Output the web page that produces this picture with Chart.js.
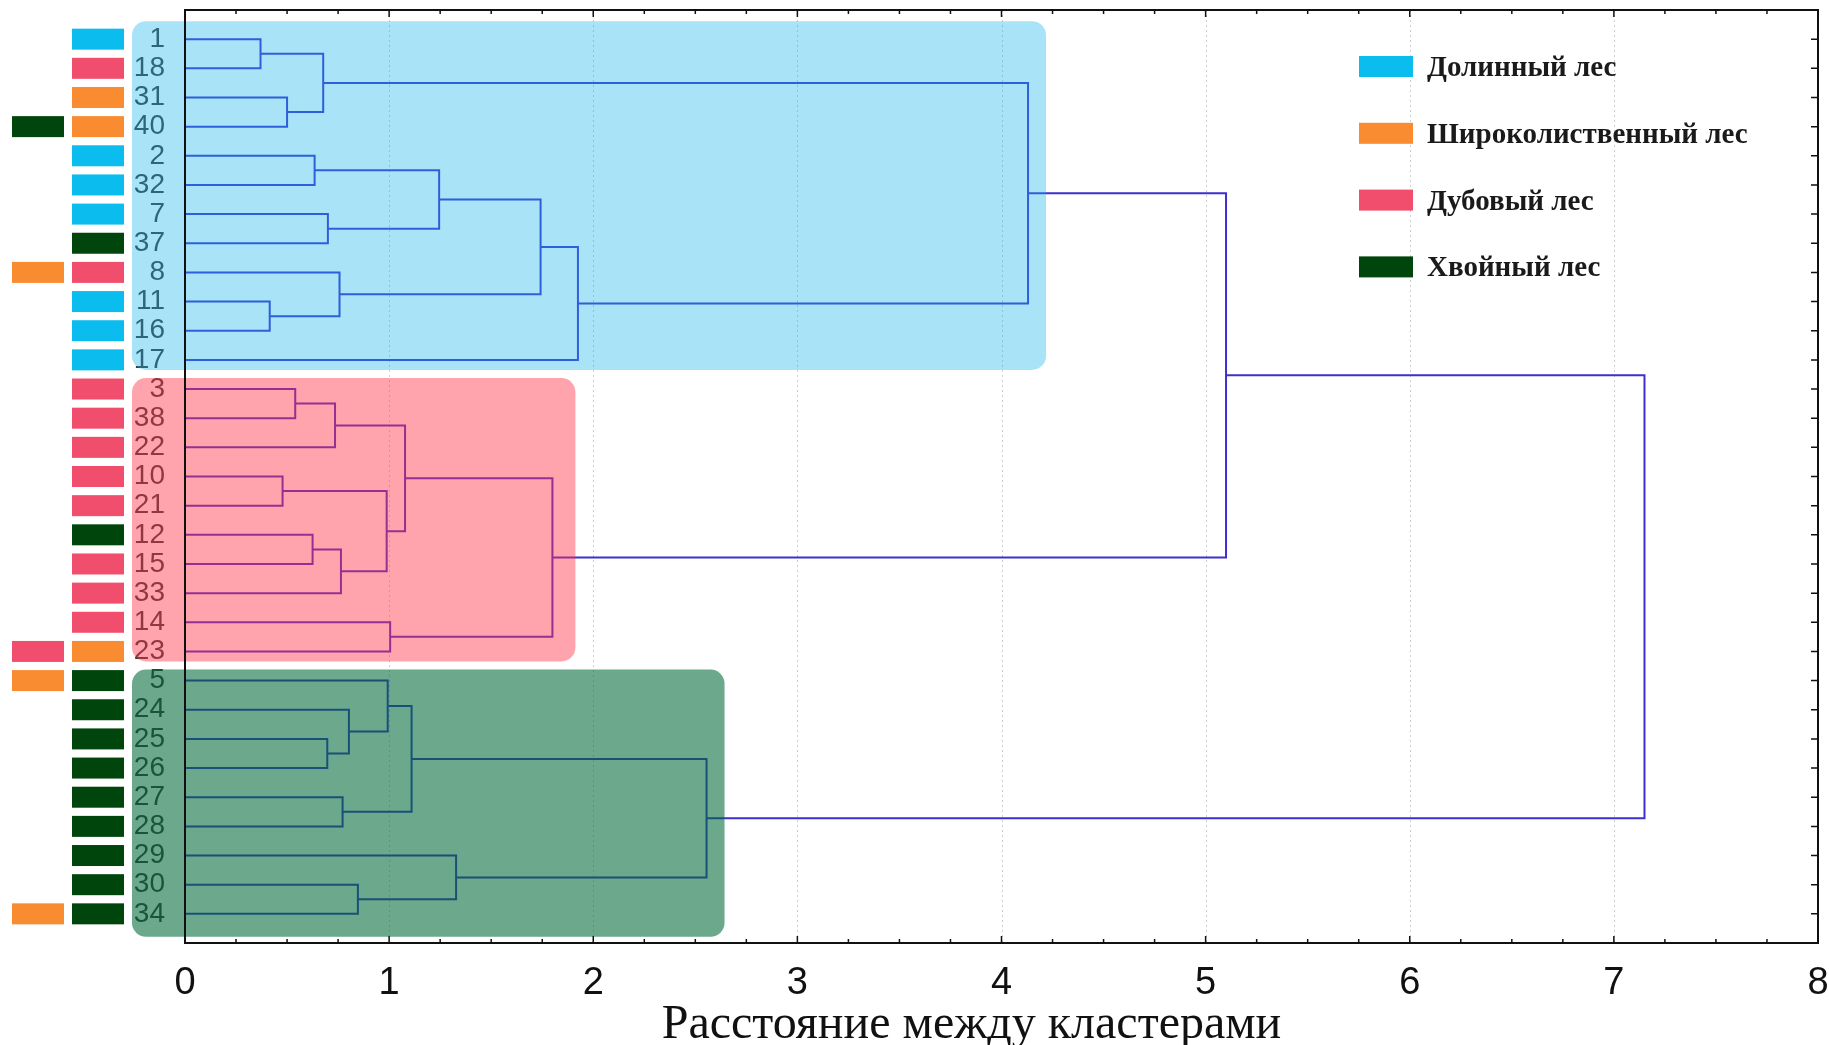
<!DOCTYPE html>
<html>
<head>
<meta charset="utf-8">
<title>Дендрограмма</title>
<script src="https://cdn.jsdelivr.net/npm/chart.js@4.4.1/dist/chart.umd.min.js"></script>
<style>
  html, body { margin: 0; padding: 0; background: #fff; }
  canvas { display: block; }
</style>
</head>
<body>
<canvas id="dendro" width="1829" height="1045"></canvas>
<script>
// leaves, top to bottom
const leafLabels = ["1", "18", "31", "40", "2", "32", "7", "37", "8", "11", "16", "17",
  "3", "38", "22", "10", "21", "12", "15", "33", "14", "23",
  "5", "24", "25", "26", "27", "28", "29", "30", "34"];

// forest type of each leaf (inner column) and the optional second mark (outer column)
const innerGroup = ["valley", "oak", "broad", "broad", "valley", "valley", "valley", "conifer", "oak", "valley", "valley", "valley",
  "oak", "oak", "oak", "oak", "oak", "conifer", "oak", "oak", "oak", "broad",
  "conifer", "conifer", "conifer", "conifer", "conifer", "conifer", "conifer", "conifer", "conifer"];
const outerGroup = [null, null, null, "conifer", null, null, null, null, "broad", null, null, null,
  null, null, null, null, null, null, null, null, null, "oak",
  "broad", null, null, null, null, null, null, null, "broad"];

// linkage: node ids 0..30 are leaves, merge k creates node 31 + k
const mergeLeft = [0, 2, 31, 4, 6, 9, 8, 34, 38, 39, 33,
  12, 42, 15, 17, 45, 44, 43, 20, 48,
  41,
  24, 23, 22, 26, 54, 29, 28, 56,
  51];
const mergeRight = [1, 3, 32, 5, 7, 10, 36, 35, 37, 11, 40,
  13, 14, 16, 18, 19, 46, 47, 21, 49,
  50,
  25, 52, 53, 27, 55, 30, 57, 58,
  59];
const mergeHeight = [0.37, 0.50, 0.677, 0.635, 0.70, 0.415, 0.757, 1.245, 1.742, 1.925, 4.13,
  0.54, 0.735, 0.478, 0.625, 0.764, 0.988, 1.078, 1.005, 1.80,
  5.10,
  0.697, 0.803, 0.993, 0.772, 1.11, 0.847, 1.328, 2.555,
  7.15];

// highlighted clusters (node ids)
const clusterNodes = [41, 50, 59];

const legendGroups = ["valley", "broad", "oak", "conifer"];
const legendLabels = ["Долинный лес", "Широколиственный лес", "Дубовый лес", "Хвойный лес"];

const xTicks = [0, 1, 2, 3, 4, 5, 6, 7, 8];
const xTitle = "Расстояние между кластерами";

const groupColors = {
  valley: "#0bbcef",
  broad: "#f98b31",
  oak: "#f04e6c",
  conifer: "#00460c",
};
const clusterFill = ["rgba(22, 179, 236, 0.37)", "rgba(255, 51, 71, 0.45)", "rgba(0, 105, 57, 0.58)"];

// node positions
const nodeY = leafLabels.map((_, i) => i);
const nodeH = leafLabels.map(() => 0);
const nodeLeaves = leafLabels.map((_, i) => [i]);
mergeHeight.forEach(function (h, k) {
  const a = mergeLeft[k];
  const b = mergeRight[k];
  nodeY.push((nodeY[a] + nodeY[b]) / 2);
  nodeH.push(h);
  nodeLeaves.push(nodeLeaves[a].concat(nodeLeaves[b]));
});

const linkDatasets = mergeHeight.map(function (h, k) {
  const a = mergeLeft[k];
  const b = mergeRight[k];
  return {
    data: [
      { x: nodeH[a], y: nodeY[a] },
      { x: h, y: nodeY[a] },
      { x: h, y: nodeY[b] },
      { x: nodeH[b], y: nodeY[b] },
    ],
    showLine: true,
    borderColor: "#3d2fd0",
    borderWidth: 2,
    pointRadius: 0,
    tension: 0,
    fill: false,
  };
});

function roundRect(ctx, x, y, w, h, r) {
  ctx.beginPath();
  ctx.moveTo(x + r, y);
  ctx.lineTo(x + w - r, y);
  ctx.arcTo(x + w, y, x + w, y + r, r);
  ctx.lineTo(x + w, y + h - r);
  ctx.arcTo(x + w, y + h, x + w - r, y + h, r);
  ctx.lineTo(x + r, y + h);
  ctx.arcTo(x, y + h, x, y + h - r, r);
  ctx.lineTo(x, y + r);
  ctx.arcTo(x, y, x + r, y, r);
  ctx.closePath();
}

const decorPlugin = {
  id: "decor",
  beforeDatasetsDraw(chart) {
    const { ctx, chartArea, scales } = chart;
    ctx.save();
    ctx.strokeStyle = "#cfcfcf";
    ctx.lineWidth = 1;
    ctx.setLineDash([2, 3]);
    xTicks.slice(1, -1).forEach(function (v) {
      const px = Math.round(scales.x.getPixelForValue(v)) + 0.5;
      ctx.beginPath();
      ctx.moveTo(px, chartArea.top);
      ctx.lineTo(px, chartArea.bottom);
      ctx.stroke();
    });
    ctx.restore();
  },
  afterDatasetsDraw(chart) {
    const { ctx, scales } = chart;
    const padTop = [18, 11, 11];
    const padBottom = [10, 10, 23];
    const padRight = [18, 23, 18];
    ctx.save();
    clusterNodes.forEach(function (node, c) {
      const leaves = nodeLeaves[node];
      const first = Math.min.apply(null, leaves);
      const last = Math.max.apply(null, leaves);
      const x0 = scales.y.right - 53;
      const x1 = scales.x.getPixelForValue(nodeH[node]) + padRight[c];
      const y0 = scales.y.getPixelForValue(first) - padTop[c];
      const y1 = scales.y.getPixelForValue(last) + padBottom[c];
      ctx.fillStyle = clusterFill[c];
      roundRect(ctx, x0, y0, x1 - x0, y1 - y0, 14);
      ctx.fill();
    });
    ctx.restore();
  },
  afterDraw(chart) {
    const { ctx, chartArea, scales } = chart;
    const { left, right, top, bottom } = chartArea;
    ctx.save();

    // frame
    ctx.strokeStyle = "#111";
    ctx.lineWidth = 2;
    ctx.strokeRect(left, top, right - left, bottom - top);

    // inward ticks
    ctx.lineWidth = 1.5;
    ctx.beginPath();
    for (let v = 0; v <= 8; v += 0.25) {
      const px = scales.x.getPixelForValue(v);
      const len = Number.isInteger(v) ? 7 : 4;
      ctx.moveTo(px, bottom);
      ctx.lineTo(px, bottom - len);
      ctx.moveTo(px, top);
      ctx.lineTo(px, top + len);
    }
    leafLabels.forEach(function (_, i) {
      const py = scales.y.getPixelForValue(i);
      ctx.moveTo(right, py);
      ctx.lineTo(right - 7, py);
    });
    ctx.stroke();

    // colour marks beside the leaves
    const step = Math.abs(scales.y.getPixelForValue(1) - scales.y.getPixelForValue(0));
    const barH = step * 0.72;
    leafLabels.forEach(function (_, i) {
      const py = scales.y.getPixelForValue(i);
      ctx.fillStyle = groupColors[innerGroup[i]];
      ctx.fillRect(scales.y.left + 72, py - barH / 2, 52, barH);
      if (outerGroup[i]) {
        ctx.fillStyle = groupColors[outerGroup[i]];
        ctx.fillRect(scales.y.left + 12, py - barH / 2, 52, barH);
      }
    });

    // axis title (sits a little left of the axis centre in the original)
    ctx.font = "48px 'Liberation Serif', 'DejaVu Serif', serif";
    ctx.fillStyle = "#111";
    ctx.textAlign = "center";
    ctx.textBaseline = "middle";
    ctx.fillText(xTitle, (left + right) / 2 - 30, scales.x.bottom - 20);

    // legend
    ctx.font = "bold 29px 'Liberation Serif', 'DejaVu Serif', serif";
    ctx.textAlign = "left";
    legendLabels.forEach(function (label, i) {
      const cy = top + 56.5 + i * 66.8;
      const sx = right - 459;
      ctx.fillStyle = groupColors[legendGroups[i]];
      ctx.fillRect(sx, cy - 10.5, 54, 21);
      ctx.fillStyle = "#1a1a1a";
      ctx.fillText(label, sx + 68, cy + 2);
    });
    ctx.restore();
  },
};

Chart.defaults.font.family = "'Liberation Sans', Arial, sans-serif";

new Chart(document.getElementById("dendro"), {
  type: "scatter",
  data: { datasets: linkDatasets },
  options: {
    responsive: false,
    animation: false,
    events: [],
    layout: { padding: { top: 10, right: 11, left: 0, bottom: 0 } },
    plugins: {
      legend: { display: false },
      tooltip: { enabled: false },
    },
    scales: {
      x: {
        type: "linear",
        min: 0,
        max: 8,
        afterBuildTicks: function (scale) {
          scale.ticks = xTicks.map((v) => ({ value: v }));
        },
        afterFit: function (scale) {
          scale.height = 102;
          scale.paddingLeft = 0;
          scale.paddingRight = 0;
        },
        grid: { display: false, drawTicks: false },
        border: { display: false },
        ticks: {
          color: "#111",
          padding: 22,
          font: { size: 38, lineHeight: 1 },
          maxRotation: 0,
        },
      },
      y: {
        type: "linear",
        reverse: true,
        min: -1,
        max: 31,
        afterBuildTicks: function (scale) {
          scale.ticks = leafLabels.map((_, i) => ({ value: i }));
        },
        afterFit: function (scale) {
          scale.width = 185;
          scale.paddingTop = 0;
          scale.paddingBottom = 0;
        },
        grid: { display: false, drawTicks: false },
        border: { display: false },
        ticks: {
          autoSkip: false,
          color: "#3a3a3a",
          padding: 20,
          font: { size: 28, lineHeight: 1 },
          callback: function (value) {
            return leafLabels[Math.round(value)];
          },
        },
      },
    },
  },
  plugins: [decorPlugin],
});
</script>
</body>
</html>
